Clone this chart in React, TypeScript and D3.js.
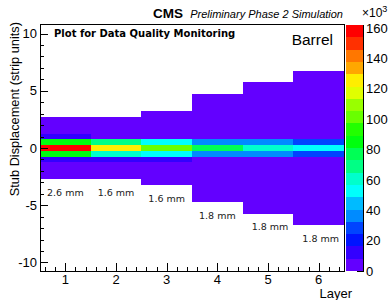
import React, { useEffect, useRef } from 'react';
import * as d3 from 'd3';

// Data (counts in units of 10^3)
const layers = [1, 2, 3, 4, 5, 6];
const halfWidth = [2.75, 2.75, 3.25, 4.75, 5.75, 6.75]; // filled displacement range per layer
const pitchLabels = ['2.6 mm', '1.6 mm', '1.6 mm', '1.8 mm', '1.8 mm', '1.8 mm'];
const coreRows = [1, 0.5, 0, -0.5, -1];
const coreCounts = [
    [12, 84, 158, 84, 12],
    [4, 68, 124, 60, 12],
    [4, 52, 100, 52, 12],
    [4, 36, 78, 36, 4],
    [4, 36, 60, 36, 4],
    [4, 28, 52, 28, 4],
];
const tailCounts = [3, 3, 3, 3, 3, 3];
const zMax = 162;
const zTicks = [0, 20, 40, 60, 80, 100, 120, 140, 160];
const yTicks = [-10, -5, 0, 5, 10];
const xTicks = [1, 2, 3, 4, 5, 6];

// ROOT "pretty" palette, 20 contours
const palette = [
    '#6300ff', '#3300ff', '#0014ff', '#0044ff', '#008bff',
    '#00bbff', '#00fffc', '#00ffcc', '#00ff85', '#00ff55',
    '#00ff0e', '#22ff00', '#69ff00', '#99ff00', '#e0ff00',
    '#ffee00', '#ffa700', '#ff7700', '#ff3000', '#ff0000',
];

const FONT = '"Liberation Sans", Arial, Helvetica, sans-serif';

const App = () => {
    const svgRef = useRef(null);

    useEffect(() => {
        const svg = d3.select(svgRef.current);
        svg.selectAll('*').remove();

        const left = 40, right = 344, top = 25, bottom = 271;

        const x = d3.scaleLinear().domain([0.5, 6.5]).range([left, right]);
        const y = d3.scaleLinear().domain([-10.75, 10.75]).range([bottom, top]);
        const z = d3.scaleLinear().domain([0, zMax]).range([bottom, top]);

        const colorOf = (v) => {
            const lvl = Math.min(19, Math.floor((v / zMax) * 20));
            return palette[lvl];
        };

        // cells
        const cells = [];
        layers.forEach((layer, i) => {
            const n = Math.round((halfWidth[i] - 0.25) / 0.5);
            d3.range(-n, n + 1).forEach(k => {
                const c = k * 0.5;
                const ci = coreRows.indexOf(c);
                const v = ci >= 0 ? coreCounts[i][ci] : tailCounts[i];
                cells.push({ layer, c, v });
            });
        });

        svg.append('g')
            .attr('shape-rendering', 'crispEdges')
            .selectAll('rect')
            .data(cells)
            .join('rect')
            .attr('x', d => x(d.layer - 0.5))
            .attr('width', d => x(d.layer + 0.5) - x(d.layer - 0.5))
            .attr('y', d => y(d.c + 0.25))
            .attr('height', d => y(d.c - 0.25) - y(d.c + 0.25))
            .attr('fill', d => colorOf(d.v));

        // pitch labels
        svg.append('g')
            .selectAll('text')
            .data(layers)
            .join('text')
            .attr('x', (d, i) => x(d) + (i > 3 ? 2 : 0))
            .attr('y', (d, i) => y(-(halfWidth[i] + 1.45)))
            .attr('text-anchor', 'middle')
            .attr('font-family', '"DejaVu Sans", Verdana, sans-serif')
            .attr('font-size', 9.5)
            .attr('fill', '#222')
            .text((d, i) => pitchLabels[i]);

        // frame
        svg.append('rect')
            .attr('x', left + 0.5)
            .attr('y', top - 0.5)
            .attr('width', right - left)
            .attr('height', bottom - top + 1)
            .attr('fill', 'none')
            .attr('stroke', '#000');

        const axes = svg.append('g').attr('stroke', '#000').attr('shape-rendering', 'crispEdges');

        // y ticks
        d3.range(-10, 11).forEach(v => {
            const major = v % 5 === 0;
            axes.append('line')
                .attr('x1', left).attr('x2', left + (major ? 8 : 4))
                .attr('y1', Math.round(y(v)) + 0.5).attr('y2', Math.round(y(v)) + 0.5);
        });
        // x ticks
        d3.range(3, 33).forEach(k => {
            const v = k / 5;
            const major = k % 5 === 0;
            axes.append('line')
                .attr('x1', Math.round(x(v)) + 0.5).attr('x2', Math.round(x(v)) + 0.5)
                .attr('y1', bottom).attr('y2', bottom - (major ? 8 : 4));
        });

        const labels = svg.append('g').attr('font-family', FONT).attr('font-size', 13).attr('fill', '#000');

        yTicks.forEach(v => {
            labels.append('text')
                .attr('x', 37)
                .attr('y', y(v))
                .attr('dy', '0.36em')
                .attr('text-anchor', 'end')
                .text(v);
        });
        xTicks.forEach(v => {
            labels.append('text')
                .attr('x', x(v))
                .attr('y', 284)
                .attr('text-anchor', 'middle')
                .text(v);
        });

        // axis titles
        labels.append('text')
            .attr('transform', 'translate(19,22) rotate(-90)')
            .attr('text-anchor', 'end')
            .attr('font-size', 12.8)
            .text('Stub Displacement (strip units)');

        labels.append('text')
            .attr('x', 352)
            .attr('y', 298)
            .attr('text-anchor', 'end')
            .text('Layer');

        // color bar
        const barL = 346, barR = 363;
        svg.append('g')
            .attr('shape-rendering', 'crispEdges')
            .selectAll('rect')
            .data(palette)
            .join('rect')
            .attr('x', barL)
            .attr('width', barR - barL)
            .attr('y', (d, i) => z(((i + 1) * zMax) / 20))
            .attr('height', z(0) - z(zMax / 20))
            .attr('fill', d => d);

        axes.append('line')
            .attr('x1', barR + 0.5).attr('x2', barR + 0.5)
            .attr('y1', top).attr('y2', bottom + 1);
        zTicks.forEach(v => {
            axes.append('line')
                .attr('x1', barR).attr('x2', barR - 6)
                .attr('y1', Math.round(z(v)) + 0.5).attr('y2', Math.round(z(v)) + 0.5);
            labels.append('text')
                .attr('x', 366)
                .attr('y', z(v))
                .attr('dy', '0.36em')
                .text(v);
        });

        const exp = labels.append('text').attr('x', 362).attr('y', 17).attr('font-size', 12);
        exp.append('tspan').text('×10');
        exp.append('tspan').attr('dy', -5).attr('font-size', 9).text('3');

        // header
        svg.append('text')
            .attr('x', 153)
            .attr('y', 18)
            .attr('font-family', FONT)
            .attr('font-weight', 'bold')
            .attr('font-size', 13.5)
            .text('CMS');
        svg.append('text')
            .attr('x', 343)
            .attr('y', 18)
            .attr('text-anchor', 'end')
            .attr('font-family', FONT)
            .attr('font-style', 'italic')
            .attr('font-size', 11)
            .text('Preliminary Phase 2 Simulation');

        svg.append('text')
            .attr('x', 54)
            .attr('y', 37)
            .attr('font-family', '"DejaVu Sans", Verdana, sans-serif')
            .attr('font-weight', 'bold')
            .attr('font-size', 10)
            .text('Plot for Data Quality Monitoring');

        svg.append('text')
            .attr('x', 333)
            .attr('y', 45)
            .attr('text-anchor', 'end')
            .attr('font-family', FONT)
            .attr('font-size', 15.5)
            .text('Barrel');
    }, []);

    return (
        <svg
            ref={svgRef}
            width={390}
            height={300}
            style={{ position: 'absolute', left: 0, top: 0, background: '#fff' }}
        />
    );
};

export default App;
